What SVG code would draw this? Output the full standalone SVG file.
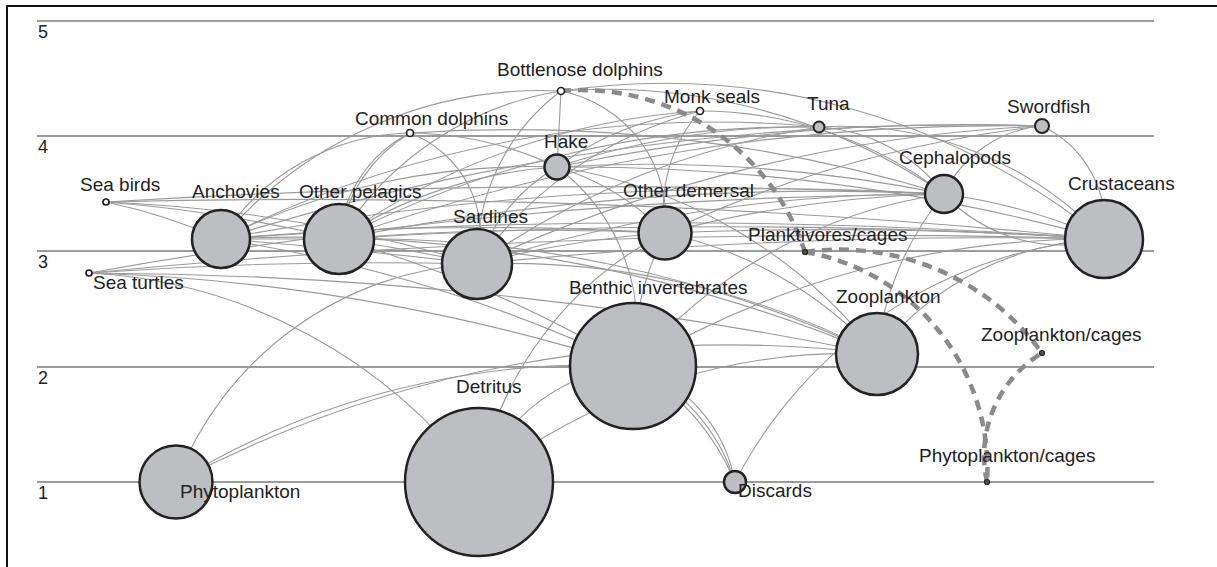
<svg xmlns="http://www.w3.org/2000/svg" width="1217" height="567" viewBox="0 0 1217 567">
<style>
.frame{fill:none;stroke:#111;stroke-width:2}
.grid{stroke:#9b9b9b;stroke-width:2.2}
.edge{fill:none;stroke:#9a9a9a;stroke-width:1.1}
.dash{fill:none;stroke:#8a8a8a;stroke-width:4.5;stroke-dasharray:10 7}
.big{fill:#bdbec2;stroke:#222;stroke-width:2.5}
.small{fill:#fff;stroke:#222;stroke-width:1.7}
.tiny{fill:#555;stroke:#222;stroke-width:1.2}
.lbl{font-family:"Liberation Sans",Arial,sans-serif;font-size:19px;fill:#222}
.axis{font-family:"Liberation Sans",Arial,sans-serif;font-size:18px;fill:#222}
</style>
<rect width="1217" height="567" fill="#fff"/>
<rect class="frame" x="7" y="6" width="1220" height="570"/>
<g id="axis">
<line class="grid" x1="37" y1="21" x2="1154" y2="21"/>
<line class="grid" x1="37" y1="136" x2="1154" y2="136"/>
<line class="grid" x1="37" y1="251" x2="1154" y2="251"/>
<line class="grid" x1="37" y1="367" x2="1154" y2="367"/>
<line class="grid" x1="37" y1="482" x2="1154" y2="482"/>
<text class="axis" x="38" y="38">5</text>
<text class="axis" x="38" y="153">4</text>
<text class="axis" x="38" y="268">3</text>
<text class="axis" x="38" y="384">2</text>
<text class="axis" x="38" y="499">1</text>
</g>
<g id="connectors">
<path class="edge" d="M561 91 L557 167"/>
<path class="edge" d="M221 239 A420 420 0 0 1 561 91"/>
<path class="edge" d="M339 239 A320 320 0 0 1 561 91"/>
<path class="edge" d="M477 264 A210 210 0 0 1 561 91"/>
<path class="edge" d="M561 91 A130 130 0 0 1 665 233"/>
<path class="edge" d="M561 91 A600 600 0 0 1 944 194"/>
<path class="edge" d="M561 91 A700 700 0 0 1 1104 239"/>
<path class="edge" d="M339 239 A130 130 0 0 1 410 133"/>
<path class="edge" d="M339 239 A150 150 0 0 1 410 133"/>
<path class="edge" d="M221 239 A230 230 0 0 1 410 133"/>
<path class="edge" d="M410 133 A110 110 0 0 1 477 264"/>
<path class="edge" d="M410 133 A350 350 0 0 1 557 167"/>
<path class="edge" d="M410 133 A1500 1500 0 0 1 944 194"/>
<path class="edge" d="M665 233 A150 150 0 0 1 700 111"/>
<path class="edge" d="M557 167 A300 300 0 0 1 700 111"/>
<path class="edge" d="M700 111 A400 400 0 0 1 944 194"/>
<path class="edge" d="M477 264 A400 400 0 0 1 700 111"/>
<path class="edge" d="M339 239 A700 700 0 0 1 700 111"/>
<path class="edge" d="M221 239 A1100 1100 0 0 1 819 127"/>
<path class="edge" d="M339 239 A1000 1000 0 0 1 819 127"/>
<path class="edge" d="M477 264 A800 800 0 0 1 819 127"/>
<path class="edge" d="M557 167 A800 800 0 0 1 819 127"/>
<path class="edge" d="M819 127 A170 170 0 0 1 944 194"/>
<path class="edge" d="M819 127 A360 360 0 0 1 1104 239"/>
<path class="edge" d="M221 239 A2500 2500 0 0 1 1042 126"/>
<path class="edge" d="M339 239 A2000 2000 0 0 1 1042 126"/>
<path class="edge" d="M477 264 A1500 1500 0 0 1 1042 126"/>
<path class="edge" d="M557 167 A2000 2000 0 0 1 1042 126"/>
<path class="edge" d="M944 194 A120 120 0 0 1 1042 126"/>
<path class="edge" d="M1042 126 A110 110 0 0 1 1104 239"/>
<path class="edge" d="M665 233 A1200 1200 0 0 1 1042 126"/>
<path class="edge" d="M221 239 A700 700 0 0 1 557 167"/>
<path class="edge" d="M339 239 A450 450 0 0 1 557 167"/>
<path class="edge" d="M477 264 A180 180 0 0 1 557 167"/>
<path class="edge" d="M557 167 A200 200 0 0 1 633 366"/>
<path class="edge" d="M557 167 A250 250 0 0 1 665 233"/>
<path class="edge" d="M557 167 A2000 2000 0 0 1 1104 239"/>
<path class="edge" d="M557 167 A500 500 0 0 1 877 354"/>
<path class="edge" d="M557 167 A1500 1500 0 0 1 944 194"/>
<path class="edge" d="M221 239 A3000 3000 0 0 1 944 194"/>
<path class="edge" d="M339 239 A2500 2500 0 0 1 944 194"/>
<path class="edge" d="M477 264 A1500 1500 0 0 1 944 194"/>
<path class="edge" d="M665 233 A1200 1200 0 0 1 944 194"/>
<path class="edge" d="M944 194 A600 600 0 0 1 1104 239"/>
<path class="edge" d="M944 194 A160 160 0 0 0 1104 239"/>
<path class="edge" d="M877 354 A300 300 0 0 1 944 194"/>
<path class="edge" d="M221 239 A3000 3000 0 0 1 665 233"/>
<path class="edge" d="M339 239 A2500 2500 0 0 1 665 233"/>
<path class="edge" d="M477 264 A1000 1000 0 0 1 665 233"/>
<path class="edge" d="M633 366 A300 300 0 0 1 665 233"/>
<path class="edge" d="M665 233 A4000 4000 0 0 1 1104 239"/>
<path class="edge" d="M665 233 A400 400 0 0 1 877 354"/>
<path class="edge" d="M479 482 A350 350 0 0 1 665 233"/>
<path class="edge" d="M477 264 A800 800 0 0 1 877 354"/>
<path class="edge" d="M477 264 A5000 5000 0 0 1 1104 239"/>
<path class="edge" d="M89 273 A4000 4000 0 0 1 477 264"/>
<path class="edge" d="M106 202 A1500 1500 0 0 1 477 264"/>
<path class="edge" d="M221 239 A1500 1500 0 0 1 877 354"/>
<path class="edge" d="M221 239 A6000 6000 0 0 1 1104 239"/>
<path class="edge" d="M106 202 A600 600 0 0 1 221 239"/>
<path class="edge" d="M339 239 A1200 1200 0 0 1 877 354"/>
<path class="edge" d="M339 239 A6000 6000 0 0 1 1104 239"/>
<path class="edge" d="M106 202 A1500 1500 0 0 1 339 239"/>
<path class="edge" d="M221 239 L339 239"/>
<path class="edge" d="M221 239 A5000 5000 0 0 1 477 264"/>
<path class="edge" d="M339 239 A2000 2000 0 0 1 477 264"/>
<path class="edge" d="M221 239 A1500 1500 0 0 1 633 366"/>
<path class="edge" d="M339 239 A1200 1200 0 0 1 633 366"/>
<path class="edge" d="M89 273 A2000 2000 0 0 1 633 366"/>
<path class="edge" d="M89 273 A4000 4000 0 0 1 877 354"/>
<path class="edge" d="M89 273 A520 520 0 0 1 479 482"/>
<path class="edge" d="M89 273 A8000 8000 0 0 1 1104 239"/>
<path class="edge" d="M89 273 A5000 5000 0 0 1 944 194"/>
<path class="edge" d="M106 202 A8000 8000 0 0 1 1104 239"/>
<path class="edge" d="M106 202 A8000 8000 0 0 1 944 194"/>
<path class="edge" d="M877 354 A300 300 0 0 1 1104 239"/>
<path class="edge" d="M633 366 A900 900 0 0 1 1104 239"/>
<path class="edge" d="M633 366 A500 500 0 0 1 944 194"/>
<path class="edge" d="M735 482 A450 450 0 0 1 1104 239"/>
<path class="edge" d="M176 482 A340 340 0 0 1 477 264"/>
<path class="edge" d="M176 482 A800 800 0 0 1 633 366"/>
<path class="edge" d="M176 482 A1190 1190 0 0 1 877 354"/>
<path class="edge" d="M479 482 A600 600 0 0 1 877 354"/>
<path class="edge" d="M479 482 A180 180 0 0 1 633 366"/>
<path class="edge" d="M633 366 A150 150 0 0 1 735 482"/>
<path class="edge" d="M633 366 A190 190 0 0 1 735 482"/>
<path class="edge" d="M633 366 A240 240 0 0 1 735 482"/>
<path class="dash" d="M561 91 A235 235 0 0 1 805 252"/>
<path class="dash" d="M805 252 A250 250 0 0 1 1042 353"/>
<path class="dash" d="M805 252 A220 220 0 0 1 987 482"/>
<path class="dash" d="M987 482 A120 120 0 0 1 1042 353"/>
</g>
<g id="sea-birds"><circle class="small" cx="106" cy="202" r="3"/><text class="lbl" x="80" y="191">Sea birds</text></g>
<g id="sea-turtles"><circle class="small" cx="89" cy="273" r="3"/><text class="lbl" x="93" y="289">Sea turtles</text></g>
<g id="anchovies"><circle class="big" cx="221" cy="239" r="29"/><text class="lbl" x="192" y="198">Anchovies</text></g>
<g id="other-pelagics"><circle class="big" cx="339" cy="239" r="35"/><text class="lbl" x="299" y="198">Other pelagics</text></g>
<g id="common-dolphins"><circle class="small" cx="410" cy="133" r="3.5"/><text class="lbl" x="355" y="125">Common dolphins</text></g>
<g id="bottlenose-dolphins"><circle class="small" cx="561" cy="91" r="3.5"/><text class="lbl" x="497" y="76">Bottlenose dolphins</text></g>
<g id="monk-seals"><circle class="small" cx="700" cy="111" r="3.5"/><text class="lbl" x="664" y="103">Monk seals</text></g>
<g id="tuna"><circle class="big" cx="819" cy="127" r="5.5" style="stroke-width:2"/><text class="lbl" x="807" y="110">Tuna</text></g>
<g id="swordfish"><circle class="big" cx="1042" cy="126" r="7" style="stroke-width:2"/><text class="lbl" x="1007" y="113">Swordfish</text></g>
<g id="hake"><circle class="big" cx="557" cy="167" r="12.5"/><text class="lbl" x="544" y="148">Hake</text></g>
<g id="sardines"><circle class="big" cx="477" cy="264" r="35"/><text class="lbl" x="453" y="223">Sardines</text></g>
<g id="other-demersal"><circle class="big" cx="665" cy="233" r="26.5"/><text class="lbl" x="623" y="197">Other demersal</text></g>
<g id="planktivores-cages"><circle class="tiny" cx="805" cy="252" r="2.5"/><text class="lbl" x="748" y="241">Planktivores/cages</text></g>
<g id="cephalopods"><circle class="big" cx="944" cy="194" r="19"/><text class="lbl" x="899" y="164">Cephalopods</text></g>
<g id="crustaceans"><circle class="big" cx="1104" cy="239" r="39"/><text class="lbl" x="1068" y="190">Crustaceans</text></g>
<g id="benthic-invertebrates"><circle class="big" cx="633" cy="366" r="63"/><text class="lbl" x="569" y="294">Benthic invertebrates</text></g>
<g id="zooplankton"><circle class="big" cx="877" cy="354" r="41"/><text class="lbl" x="836" y="303">Zooplankton</text></g>
<g id="zooplankton-cages"><circle class="tiny" cx="1042" cy="353" r="2.5"/><text class="lbl" x="981" y="341">Zooplankton/cages</text></g>
<g id="phytoplankton-cages"><circle class="tiny" cx="987" cy="482" r="2.5"/><text class="lbl" x="919" y="462">Phytoplankton/cages</text></g>
<g id="detritus"><circle class="big" cx="479" cy="482" r="74"/><text class="lbl" x="456" y="393">Detritus</text></g>
<g id="discards"><circle class="big" cx="735" cy="482" r="11"/><text class="lbl" x="738" y="497">Discards</text></g>
<g id="phytoplankton"><circle class="big" cx="176" cy="482" r="36.5"/><text class="lbl" x="180" y="498">Phytoplankton</text></g>
</svg>
